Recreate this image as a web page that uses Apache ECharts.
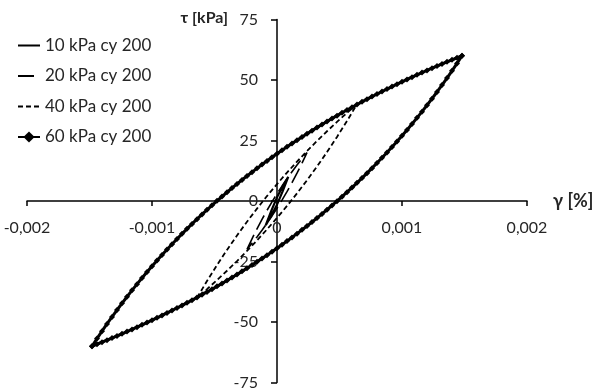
<!DOCTYPE html>
<html>
<head>
<meta charset="utf-8">
<script src="https://cdn.jsdelivr.net/npm/echarts@6/dist/echarts.min.js"></script>
<style>
html,body{margin:0;padding:0;background:#fff;}
#c{width:602px;height:392px;}
</style>
</head>
<body>
<div id="c"></div>
<script>
// ---- data ----
const seriesNames = ['10 kPa cy 200', '20 kPa cy 200', '40 kPa cy 200', '60 kPa cy 200'];
const xTicks = [-0.002, -0.001, 0, 0.001, 0.002];
const yTicks = [-75, -50, -25, 0, 25, 50, 75];

// 10 kPa loop
const gamma10 = [-0.00009, -0.000045, 0, 0.000045, 0.00009];
const tau10Up = [-10, -4, 1.5, 6, 10];
const tau10Down = [-10, -6, -1.5, 4, 10];

// 20 kPa loop
const gamma20 = [-0.00024, -0.0002, -0.00016, -0.00012, -0.00008, -0.00004, 0, 0.00004, 0.00008, 0.00012, 0.00016, 0.0002, 0.00024];
const tau20Up = [-20, -15.62, -11.48, -7.57, -3.87, -0.35, 2.99, 6.17, 9.20, 12.08, 14.84, 17.47, 20];
const tau20Down = [-20, -17.47, -14.84, -12.08, -9.20, -6.17, -2.99, 0.35, 3.87, 7.57, 11.48, 15.62, 20];

// 40 kPa loop
const gamma40 = [-0.00064, -0.00056, -0.00048, -0.0004, -0.00032, -0.00024, -0.00016, -0.00008, 0, 0.00008, 0.00016, 0.00024, 0.00032, 0.0004, 0.00048, 0.00056, 0.00064];
const tau40Up = [-40, -33.06, -26.48, -20.21, -14.25, -8.57, -3.15, 2.04, 6.99, 11.73, 16.28, 20.63, 24.81, 28.83, 32.69, 36.41, 40];
const tau40Down = [-40, -36.41, -32.69, -28.83, -24.81, -20.63, -16.28, -11.73, -6.99, -2.04, 3.15, 8.57, 14.25, 20.21, 26.48, 33.06, 40];

// 60 kPa loop
const gamma60 = [-0.00148, -0.00144, -0.0014, -0.00136, -0.00132, -0.00128, -0.00124, -0.0012, -0.00116, -0.00112, -0.00108, -0.00104, -0.001, -0.00096, -0.00092, -0.00088, -0.00084, -0.0008, -0.00076, -0.00072, -0.00068, -0.00064, -0.0006, -0.00056, -0.00052, -0.00048, -0.00044, -0.0004, -0.00036, -0.00032, -0.00028, -0.00024, -0.0002, -0.00016, -0.00012, -0.00008, -0.00004, 0, 0.00004, 0.00008, 0.00012, 0.00016, 0.0002, 0.00024, 0.00028, 0.00032, 0.00036, 0.0004, 0.00044, 0.00048, 0.00052, 0.00056, 0.0006, 0.00064, 0.00068, 0.00072, 0.00076, 0.0008, 0.00084, 0.00088, 0.00092, 0.00096, 0.001, 0.00104, 0.00108, 0.00112, 0.00116, 0.0012, 0.00124, 0.00128, 0.00132, 0.00136, 0.0014, 0.00144, 0.00148];
const tau60Up = [-60, -56.86, -53.79, -50.81, -47.89, -45.05, -42.28, -39.57, -36.93, -34.35, -31.83, -29.36, -26.95, -24.60, -22.29, -20.04, -17.84, -15.68, -13.57, -11.50, -9.47, -7.49, -5.54, -3.64, -1.77, 0.06, 1.85, 3.62, 5.34, 7.04, 8.70, 10.33, 11.93, 13.50, 15.05, 16.57, 18.05, 19.52, 20.96, 22.37, 23.76, 25.12, 26.47, 27.79, 29.08, 30.36, 31.62, 32.85, 34.07, 35.27, 36.44, 37.60, 38.75, 39.87, 40.98, 42.07, 43.14, 44.20, 45.24, 46.26, 47.28, 48.27, 49.25, 50.22, 51.18, 52.12, 53.05, 53.96, 54.86, 55.75, 56.63, 57.50, 58.35, 59.19, 60];
const tau60Down = [-60, -59.19, -58.35, -57.50, -56.63, -55.75, -54.86, -53.96, -53.05, -52.12, -51.18, -50.22, -49.25, -48.27, -47.28, -46.26, -45.24, -44.20, -43.14, -42.07, -40.98, -39.87, -38.75, -37.60, -36.44, -35.27, -34.07, -32.85, -31.62, -30.36, -29.08, -27.79, -26.47, -25.12, -23.76, -22.37, -20.96, -19.52, -18.05, -16.57, -15.05, -13.50, -11.93, -10.33, -8.70, -7.04, -5.34, -3.62, -1.85, -0.06, 1.77, 3.64, 5.54, 7.49, 9.47, 11.50, 13.57, 15.68, 17.84, 20.04, 22.29, 24.60, 26.95, 29.36, 31.83, 34.35, 36.93, 39.57, 42.28, 45.05, 47.89, 50.81, 53.79, 56.86, 60];

// ---- build closed loops: upper branch forward, lower branch back ----
function loop(g, up, down) {
  const a = g.map((x, i) => [x, up[i]]);
  const b = g.map((x, i) => [x, down[i]]).reverse();
  return a.concat(b);
}

const FONT = 'Lato';
const TXT = '#262626';

const GRID = {left: 27, right: 75, top: 19.5, bottom: 9.5};
const W = 602, H = 392;
const plotW = W - GRID.left - GRID.right;
const plotH = H - GRID.top - GRID.bottom;
// place axes through the origin
const xZeroPx = plotW * (0 - xTicks[0]) / (xTicks[xTicks.length - 1] - xTicks[0]);
const yZeroPx = plotH * (0 - yTicks[0]) / (yTicks[yTicks.length - 1] - yTicks[0]);

const chart = echarts.init(document.getElementById('c'), null, {renderer: 'canvas'});
chart.setOption({
  backgroundColor: '#ffffff',
  animation: false,
  textStyle: {fontFamily: FONT},
  grid: Object.assign({outerBoundsMode: 'none', containLabel: false}, GRID),
  legend: {
    orient: 'vertical', left: 17, top: 37, padding: 0,
    itemWidth: 22, itemHeight: 14, itemGap: 13.5,
    textStyle: {fontFamily: FONT, fontSize: 17, lineHeight: 16, color: TXT},
    data: [
      {name: seriesNames[0], itemStyle: {opacity: 0}},
      {name: seriesNames[1], itemStyle: {opacity: 0}},
      {name: seriesNames[2], itemStyle: {opacity: 0}},
      {name: seriesNames[3]}
    ]
  },
  xAxis: {
    type: 'value', min: xTicks[0], max: xTicks[xTicks.length - 1], interval: 0.001,
    position: 'bottom', offset: -yZeroPx,
    name: 'γ [%]', nameLocation: 'end', nameGap: 26,
    nameTextStyle: {fontFamily: FONT, fontSize: 18, fontWeight: 'bold', color: TXT, verticalAlign: 'middle', padding: [8, 0, 0, 0]},
    axisLine: {onZero: false, lineStyle: {color: '#000', width: 1.5}},
    axisTick: {show: true, length: 5, lineStyle: {color: '#000', width: 1.5}},
    axisLabel: {margin: 19, fontSize: 16, color: TXT, fontFamily: FONT,
      formatter: v => Math.abs(v) < 1e-12 ? '0' : v.toFixed(3).replace('.', ',')},
    splitLine: {show: false}
  },
  yAxis: {
    type: 'value', min: yTicks[0], max: yTicks[yTicks.length - 1], interval: 25,
    position: 'left', offset: -xZeroPx,
    name: 'τ [kPa]', nameLocation: 'end', nameGap: 1.5,
    nameTextStyle: {fontFamily: FONT, fontSize: 16, fontWeight: 'bold', color: TXT, align: 'right', verticalAlign: 'middle', padding: [0, 49, 0, 0]},
    axisLine: {onZero: false, lineStyle: {color: '#000', width: 1.5}},
    axisTick: {show: true, length: 6, lineStyle: {color: '#000', width: 1.5}},
    axisLabel: {margin: 19, fontSize: 16, color: TXT, fontFamily: FONT},
    splitLine: {show: false}
  },
  series: [
    {name: seriesNames[0], type: 'line', data: loop(gamma10, tau10Up, tau10Down),
      symbol: 'none', lineStyle: {color: '#000', width: 2.2}, itemStyle: {color: '#000'}},
    {name: seriesNames[1], type: 'line', data: loop(gamma20, tau20Up, tau20Down),
      symbol: 'none', lineStyle: {color: '#000', width: 1.6, type: [16, 6]}, itemStyle: {color: '#000'}},
    {name: seriesNames[2], type: 'line', data: loop(gamma40, tau40Up, tau40Down),
      symbol: 'none', lineStyle: {color: '#000', width: 1.8, type: [5, 3]}, itemStyle: {color: '#000'}},
    {name: seriesNames[3], type: 'line', data: loop(gamma60, tau60Up, tau60Down),
      symbol: 'diamond', symbolSize: 6, showSymbol: true,
      lineStyle: {color: '#000', width: 3}, itemStyle: {color: '#000'}}
  ]
});
</script>
</body>
</html>
